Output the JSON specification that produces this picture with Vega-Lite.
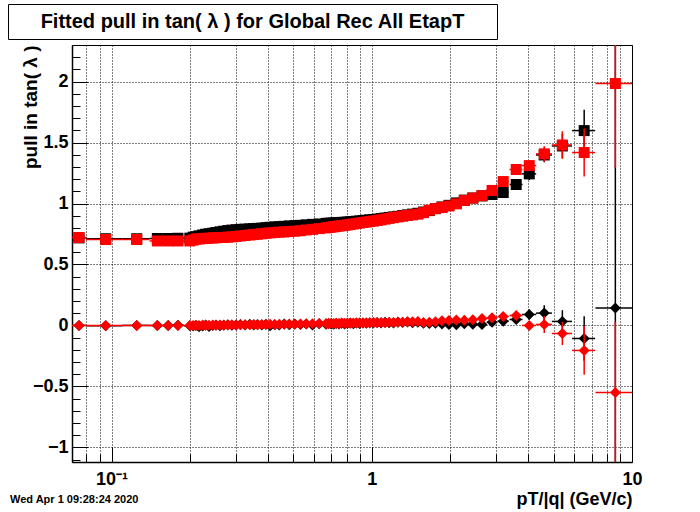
{
  "$schema": "https://vega.github.io/schema/vega-lite/v6.json",
  "background": "white",
  "padding": {"left": 7, "top": 3, "right": 0, "bottom": 0},
  "spacing": -1,
  "config": {"font": "Liberation Sans", "view": {"stroke": "black", "strokeWidth": 1}},
  "datasets": {
    "d": [
      {"pt":0.075,"hw":0.005,"s":"bs","v":0.718,"e":0.004},
      {"pt":0.095,"hw":0.015,"s":"bs","v":0.711,"e":0.004},
      {"pt":0.125,"hw":0.015,"s":"bs","v":0.711,"e":0.004},
      {"pt":0.15,"hw":0.01,"s":"bs","v":0.713,"e":0.004},
      {"pt":0.165,"hw":0.005,"s":"bs","v":0.713,"e":0.004},
      {"pt":0.18,"hw":0.01,"s":"bs","v":0.715,"e":0.004},
      {"pt":0.2,"hw":0.01,"s":"bs","v":0.716,"e":0.004},
      {"pt":0.206,"s":"bs","v":0.724},{"pt":0.211,"s":"bs","v":0.728},{"pt":0.217,"s":"bs","v":0.735},{"pt":0.224,"s":"bs","v":0.742},
      {"pt":0.23,"s":"bs","v":0.748},{"pt":0.237,"s":"bs","v":0.752},{"pt":0.245,"s":"bs","v":0.757},{"pt":0.252,"s":"bs","v":0.762},
      {"pt":0.261,"s":"bs","v":0.768},{"pt":0.27,"s":"bs","v":0.773},{"pt":0.28,"s":"bs","v":0.778},{"pt":0.29,"s":"bs","v":0.782},
      {"pt":0.301,"s":"bs","v":0.785},{"pt":0.313,"s":"bs","v":0.788},{"pt":0.326,"s":"bs","v":0.79},{"pt":0.34,"s":"bs","v":0.792},
      {"pt":0.352,"s":"bs","v":0.794},{"pt":0.364,"s":"bs","v":0.796},{"pt":0.378,"s":"bs","v":0.798},{"pt":0.392,"s":"bs","v":0.802},
      {"pt":0.407,"s":"bs","v":0.805},{"pt":0.424,"s":"bs","v":0.808},{"pt":0.441,"s":"bs","v":0.81},{"pt":0.461,"s":"bs","v":0.813},
      {"pt":0.482,"s":"bs","v":0.816},{"pt":0.506,"s":"bs","v":0.818},{"pt":0.532,"s":"bs","v":0.821},{"pt":0.56,"s":"bs","v":0.825},
      {"pt":0.592,"s":"bs","v":0.829},{"pt":0.628,"s":"bs","v":0.832},{"pt":0.668,"s":"bs","v":0.837},{"pt":0.683,"s":"bs","v":0.838},
      {"pt":0.698,"s":"bs","v":0.839},{"pt":0.714,"s":"bs","v":0.84},{"pt":0.73,"s":"bs","v":0.842},{"pt":0.748,"s":"bs","v":0.843},
      {"pt":0.766,"s":"bs","v":0.845},{"pt":0.786,"s":"bs","v":0.846},{"pt":0.806,"s":"bs","v":0.848},{"pt":0.827,"s":"bs","v":0.85},
      {"pt":0.85,"s":"bs","v":0.852},{"pt":0.873,"s":"bs","v":0.855},{"pt":0.898,"s":"bs","v":0.857},{"pt":0.925,"s":"bs","v":0.86},
      {"pt":0.953,"s":"bs","v":0.863},{"pt":0.983,"s":"bs","v":0.866},{"pt":1.015,"s":"bs","v":0.868},{"pt":1.049,"s":"bs","v":0.872},
      {"pt":1.086,"s":"bs","v":0.876},{"pt":1.125,"s":"bs","v":0.881},{"pt":1.167,"s":"bs","v":0.886},{"pt":1.212,"s":"bs","v":0.89},
      {"pt":1.261,"s":"bs","v":0.895},{"pt":1.314,"s":"bs","v":0.901},{"pt":1.372,"s":"bs","v":0.907},{"pt":1.435,"s":"bs","v":0.913},
      {"pt":1.504,"s":"bs","v":0.92},{"pt":1.58,"s":"bs","v":0.93},{"pt":1.664,"s":"bs","v":0.942},{"pt":1.757,"s":"bs","v":0.958},
      {"pt":1.862,"s":"bs","v":0.972},{"pt":1.98,"s":"bs","v":0.985},{"pt":2.114,"s":"bs","v":1.005},{"pt":2.268,"s":"bs","v":1.028},
      {"pt":2.445,"s":"bs","v":1.045},{"pt":2.653,"s":"bs","v":1.062},
      {"pt":2.9,"hw":0.135,"s":"bs","v":1.074,"e":0.015},
      {"pt":3.2,"hw":0.16,"s":"bs","v":1.09,"e":0.02},
      {"pt":3.59,"hw":0.205,"s":"bs","v":1.156,"e":0.03},
      {"pt":4.03,"hw":0.255,"s":"bs","v":1.243,"e":0.05},
      {"pt":4.6,"hw":0.325,"s":"bs","v":1.398,"e":0.06},
      {"pt":5.4,"hw":0.48,"s":"bs","v":1.472,"e":0.1},
      {"pt":6.55,"hw":0.665,"s":"bs","v":1.598,"e":0.17},

      {"pt":0.075,"hw":0.005,"s":"bd","v":0.0,"e":0.004},
      {"pt":0.095,"hw":0.015,"s":"bd","v":-0.002,"e":0.004},
      {"pt":0.125,"hw":0.015,"s":"bd","v":0.0,"e":0.004},
      {"pt":0.15,"hw":0.01,"s":"bd","v":-0.001,"e":0.004},
      {"pt":0.165,"hw":0.005,"s":"bd","v":0.0,"e":0.004},
      {"pt":0.18,"hw":0.01,"s":"bd","v":0.001,"e":0.004},
      {"pt":0.2,"hw":0.01,"s":"bd","v":-0.003,"e":0.004},
      {"pt":0.206,"s":"bd","v":-0.005},{"pt":0.211,"s":"bd","v":0.0},{"pt":0.217,"s":"bd","v":-0.01},{"pt":0.224,"s":"bd","v":-0.004},
      {"pt":0.23,"s":"bd","v":0.003},{"pt":0.237,"s":"bd","v":-0.008},{"pt":0.245,"s":"bd","v":0.0},{"pt":0.252,"s":"bd","v":0.004},
      {"pt":0.261,"s":"bd","v":-0.003},{"pt":0.27,"s":"bd","v":0.002},{"pt":0.28,"s":"bd","v":0.006},{"pt":0.29,"s":"bd","v":0.001},
      {"pt":0.301,"s":"bd","v":0.003},{"pt":0.313,"s":"bd","v":0.007},{"pt":0.326,"s":"bd","v":0.004},{"pt":0.34,"s":"bd","v":0.01},
      {"pt":0.352,"s":"bd","v":0.004},{"pt":0.364,"s":"bd","v":0.008},{"pt":0.378,"s":"bd","v":0.003},{"pt":0.392,"s":"bd","v":0.009},
      {"pt":0.407,"s":"bd","v":-0.002},{"pt":0.424,"s":"bd","v":0.006},{"pt":0.441,"s":"bd","v":0.004},{"pt":0.461,"s":"bd","v":0.012},
      {"pt":0.482,"s":"bd","v":0.005},{"pt":0.506,"s":"bd","v":0.011},{"pt":0.532,"s":"bd","v":0.007},{"pt":0.56,"s":"bd","v":0.012},
      {"pt":0.592,"s":"bd","v":0.004},{"pt":0.628,"s":"bd","v":0.013},{"pt":0.668,"s":"bd","v":0.01},{"pt":0.683,"s":"bd","v":0.016},
      {"pt":0.698,"s":"bd","v":0.012},{"pt":0.714,"s":"bd","v":0.009},{"pt":0.73,"s":"bd","v":0.015},{"pt":0.748,"s":"bd","v":0.011},
      {"pt":0.766,"s":"bd","v":0.018},{"pt":0.786,"s":"bd","v":0.012},{"pt":0.806,"s":"bd","v":0.016},{"pt":0.827,"s":"bd","v":0.02},
      {"pt":0.85,"s":"bd","v":0.014},{"pt":0.873,"s":"bd","v":0.019},{"pt":0.898,"s":"bd","v":0.016},{"pt":0.925,"s":"bd","v":0.021},
      {"pt":0.953,"s":"bd","v":0.017},{"pt":0.983,"s":"bd","v":0.022},{"pt":1.015,"s":"bd","v":0.019},{"pt":1.049,"s":"bd","v":0.024},
      {"pt":1.086,"s":"bd","v":0.02},{"pt":1.125,"s":"bd","v":0.026},{"pt":1.167,"s":"bd","v":0.022},{"pt":1.212,"s":"bd","v":0.021},
      {"pt":1.261,"s":"bd","v":0.026},{"pt":1.314,"s":"bd","v":0.024},{"pt":1.372,"s":"bd","v":0.028},{"pt":1.435,"s":"bd","v":0.022},
      {"pt":1.504,"s":"bd","v":0.026},{"pt":1.58,"s":"bd","v":0.018},{"pt":1.664,"s":"bd","v":0.015},{"pt":1.757,"s":"bd","v":0.017},
      {"pt":1.862,"s":"bd","v":0.012},{"pt":1.98,"s":"bd","v":0.008},{"pt":2.114,"s":"bd","v":0.006},{"pt":2.268,"s":"bd","v":0.014},
      {"pt":2.445,"s":"bd","v":0.01},{"pt":2.653,"s":"bd","v":0.008},
      {"pt":2.9,"hw":0.135,"s":"bd","v":0.027,"e":0.015},
      {"pt":3.2,"hw":0.16,"s":"bd","v":0.035,"e":0.02},
      {"pt":3.59,"hw":0.205,"s":"bd","v":0.049,"e":0.03},
      {"pt":4.03,"hw":0.255,"s":"bd","v":0.09,"e":0.04},
      {"pt":4.6,"hw":0.325,"s":"bd","v":0.101,"e":0.065},
      {"pt":5.4,"hw":0.48,"s":"bd","v":0.033,"e":0.092},
      {"pt":6.55,"hw":0.665,"s":"bd","v":-0.107,"e":0.183},
      {"pt":8.63,"hw":1.39,"s":"bd","v":0.142,"e":2.6},

      {"pt":0.075,"hw":0.005,"s":"rs","v":0.721,"e":0.004},
      {"pt":0.095,"hw":0.015,"s":"rs","v":0.705,"e":0.004},
      {"pt":0.125,"hw":0.015,"s":"rs","v":0.705,"e":0.004},
      {"pt":0.15,"hw":0.01,"s":"rs","v":0.693,"e":0.004},
      {"pt":0.165,"hw":0.005,"s":"rs","v":0.693,"e":0.004},
      {"pt":0.18,"hw":0.01,"s":"rs","v":0.693,"e":0.004},
      {"pt":0.2,"hw":0.01,"s":"rs","v":0.693,"e":0.004},
      {"pt":0.206,"s":"rs","v":0.7},{"pt":0.211,"s":"rs","v":0.708},{"pt":0.217,"s":"rs","v":0.71},{"pt":0.224,"s":"rs","v":0.712},
      {"pt":0.23,"s":"rs","v":0.714},{"pt":0.237,"s":"rs","v":0.716},{"pt":0.245,"s":"rs","v":0.717},{"pt":0.252,"s":"rs","v":0.719},
      {"pt":0.261,"s":"rs","v":0.721},{"pt":0.27,"s":"rs","v":0.722},{"pt":0.28,"s":"rs","v":0.724},{"pt":0.29,"s":"rs","v":0.727},
      {"pt":0.301,"s":"rs","v":0.73},{"pt":0.313,"s":"rs","v":0.734},{"pt":0.326,"s":"rs","v":0.738},{"pt":0.34,"s":"rs","v":0.742},
      {"pt":0.352,"s":"rs","v":0.745},{"pt":0.364,"s":"rs","v":0.748},{"pt":0.378,"s":"rs","v":0.752},{"pt":0.392,"s":"rs","v":0.756},
      {"pt":0.407,"s":"rs","v":0.759},{"pt":0.424,"s":"rs","v":0.762},{"pt":0.441,"s":"rs","v":0.765},{"pt":0.461,"s":"rs","v":0.767},
      {"pt":0.482,"s":"rs","v":0.77},{"pt":0.506,"s":"rs","v":0.773},{"pt":0.532,"s":"rs","v":0.777},{"pt":0.56,"s":"rs","v":0.783},
      {"pt":0.592,"s":"rs","v":0.788},{"pt":0.628,"s":"rs","v":0.794},{"pt":0.668,"s":"rs","v":0.8},{"pt":0.683,"s":"rs","v":0.803},
      {"pt":0.698,"s":"rs","v":0.806},{"pt":0.714,"s":"rs","v":0.809},{"pt":0.73,"s":"rs","v":0.812},{"pt":0.748,"s":"rs","v":0.815},
      {"pt":0.766,"s":"rs","v":0.818},{"pt":0.786,"s":"rs","v":0.821},{"pt":0.806,"s":"rs","v":0.824},{"pt":0.827,"s":"rs","v":0.828},
      {"pt":0.85,"s":"rs","v":0.832},{"pt":0.873,"s":"rs","v":0.836},{"pt":0.898,"s":"rs","v":0.84},{"pt":0.925,"s":"rs","v":0.844},
      {"pt":0.953,"s":"rs","v":0.848},{"pt":0.983,"s":"rs","v":0.852},{"pt":1.015,"s":"rs","v":0.856},{"pt":1.049,"s":"rs","v":0.861},
      {"pt":1.086,"s":"rs","v":0.866},{"pt":1.125,"s":"rs","v":0.872},{"pt":1.167,"s":"rs","v":0.878},{"pt":1.212,"s":"rs","v":0.884},
      {"pt":1.261,"s":"rs","v":0.89},{"pt":1.314,"s":"rs","v":0.896},{"pt":1.372,"s":"rs","v":0.902},{"pt":1.435,"s":"rs","v":0.907},
      {"pt":1.504,"s":"rs","v":0.913},{"pt":1.58,"s":"rs","v":0.925},{"pt":1.664,"s":"rs","v":0.945},{"pt":1.757,"s":"rs","v":0.958},
      {"pt":1.862,"s":"rs","v":0.968},{"pt":1.98,"s":"rs","v":0.98},{"pt":2.114,"s":"rs","v":0.997},{"pt":2.268,"s":"rs","v":1.025},
      {"pt":2.445,"s":"rs","v":1.045},{"pt":2.653,"s":"rs","v":1.065},
      {"pt":2.9,"hw":0.135,"s":"rs","v":1.107,"e":0.015},
      {"pt":3.2,"hw":0.16,"s":"rs","v":1.18,"e":0.02},
      {"pt":3.59,"hw":0.205,"s":"rs","v":1.279,"e":0.03},
      {"pt":4.03,"hw":0.255,"s":"rs","v":1.311,"e":0.04},
      {"pt":4.6,"hw":0.325,"s":"rs","v":1.407,"e":0.063},
      {"pt":5.4,"hw":0.48,"s":"rs","v":1.48,"e":0.113},
      {"pt":6.55,"hw":0.665,"s":"rs","v":1.418,"e":0.197},
      {"pt":8.63,"hw":1.39,"s":"rs","v":1.984,"e":0.69},

      {"pt":0.075,"hw":0.005,"s":"rd","v":0.0,"e":0.004},
      {"pt":0.095,"hw":0.015,"s":"rd","v":0.0,"e":0.004},
      {"pt":0.125,"hw":0.015,"s":"rd","v":0.0,"e":0.004},
      {"pt":0.15,"hw":0.01,"s":"rd","v":0.0,"e":0.004},
      {"pt":0.165,"hw":0.005,"s":"rd","v":0.0,"e":0.004},
      {"pt":0.18,"hw":0.01,"s":"rd","v":0.0,"e":0.004},
      {"pt":0.2,"hw":0.01,"s":"rd","v":0.0,"e":0.004},
      {"pt":0.206,"s":"rd","v":0.0},{"pt":0.211,"s":"rd","v":0.002},{"pt":0.217,"s":"rd","v":0.0},{"pt":0.224,"s":"rd","v":0.003},
      {"pt":0.23,"s":"rd","v":0.001},{"pt":0.237,"s":"rd","v":0.002},{"pt":0.245,"s":"rd","v":0.003},{"pt":0.252,"s":"rd","v":0.002},
      {"pt":0.261,"s":"rd","v":0.004},{"pt":0.27,"s":"rd","v":0.003},{"pt":0.28,"s":"rd","v":0.004},{"pt":0.29,"s":"rd","v":0.005},
      {"pt":0.301,"s":"rd","v":0.004},{"pt":0.313,"s":"rd","v":0.006},{"pt":0.326,"s":"rd","v":0.005},{"pt":0.34,"s":"rd","v":0.006},
      {"pt":0.352,"s":"rd","v":0.007},{"pt":0.364,"s":"rd","v":0.006},{"pt":0.378,"s":"rd","v":0.008},{"pt":0.392,"s":"rd","v":0.007},
      {"pt":0.407,"s":"rd","v":0.009},{"pt":0.424,"s":"rd","v":0.008},{"pt":0.441,"s":"rd","v":0.01},{"pt":0.461,"s":"rd","v":0.009},
      {"pt":0.482,"s":"rd","v":0.011},{"pt":0.506,"s":"rd","v":0.01},{"pt":0.532,"s":"rd","v":0.012},{"pt":0.56,"s":"rd","v":0.014},
      {"pt":0.592,"s":"rd","v":0.013},{"pt":0.628,"s":"rd","v":0.015},{"pt":0.668,"s":"rd","v":0.016},{"pt":0.683,"s":"rd","v":0.014},
      {"pt":0.698,"s":"rd","v":0.017},{"pt":0.714,"s":"rd","v":0.015},{"pt":0.73,"s":"rd","v":0.018},{"pt":0.748,"s":"rd","v":0.016},
      {"pt":0.766,"s":"rd","v":0.019},{"pt":0.786,"s":"rd","v":0.017},{"pt":0.806,"s":"rd","v":0.02},{"pt":0.827,"s":"rd","v":0.018},
      {"pt":0.85,"s":"rd","v":0.021},{"pt":0.873,"s":"rd","v":0.019},{"pt":0.898,"s":"rd","v":0.022},{"pt":0.925,"s":"rd","v":0.02},
      {"pt":0.953,"s":"rd","v":0.023},{"pt":0.983,"s":"rd","v":0.021},{"pt":1.015,"s":"rd","v":0.024},{"pt":1.049,"s":"rd","v":0.022},
      {"pt":1.086,"s":"rd","v":0.025},{"pt":1.125,"s":"rd","v":0.023},{"pt":1.167,"s":"rd","v":0.027},{"pt":1.212,"s":"rd","v":0.025},
      {"pt":1.261,"s":"rd","v":0.029},{"pt":1.314,"s":"rd","v":0.027},{"pt":1.372,"s":"rd","v":0.031},{"pt":1.435,"s":"rd","v":0.03},
      {"pt":1.504,"s":"rd","v":0.032},{"pt":1.58,"s":"rd","v":0.024},{"pt":1.664,"s":"rd","v":0.026},{"pt":1.757,"s":"rd","v":0.03},
      {"pt":1.862,"s":"rd","v":0.038},{"pt":1.98,"s":"rd","v":0.041},{"pt":2.114,"s":"rd","v":0.044},{"pt":2.268,"s":"rd","v":0.043},
      {"pt":2.445,"s":"rd","v":0.047},{"pt":2.653,"s":"rd","v":0.057},
      {"pt":2.9,"hw":0.135,"s":"rd","v":0.063,"e":0.015},
      {"pt":3.2,"hw":0.16,"s":"rd","v":0.074,"e":0.02},
      {"pt":3.59,"hw":0.205,"s":"rd","v":0.082,"e":0.03},
      {"pt":4.03,"hw":0.255,"s":"rd","v":0.0,"e":0.035},
      {"pt":4.6,"hw":0.325,"s":"rd","v":0.008,"e":0.07},
      {"pt":5.4,"hw":0.48,"s":"rd","v":-0.066,"e":0.095},
      {"pt":6.55,"hw":0.665,"s":"rd","v":-0.205,"e":0.2},
      {"pt":8.63,"hw":1.39,"s":"rd","v":-0.549,"e":0.58}
    ]
  },
  "vconcat": [
    {
      "width": 489,
      "height": 35,
      "view": {"stroke": "black", "strokeWidth": 1},
      "data": {"values": [{"t": "Fitted pull in tan( λ ) for Global Rec All EtapT", "px": 0.5, "py": 0.5}]},
      "mark": {"type": "text", "font": "Liberation Sans", "fontSize": 20, "fontWeight": "bold", "color": "black"},
      "encoding": {
        "text": {"field": "t", "type": "nominal"},
        "x": {"field": "px", "type": "quantitative", "scale": {"domain": [0, 1]}, "axis": null},
        "y": {"field": "py", "type": "quantitative", "scale": {"domain": [0, 1]}, "axis": null}
      }
    },
    {
      "spacing": 0,
      "hconcat": [
        {
          "width": 1,
          "height": 1,
          "view": {"stroke": null},
          "data": {"values": [{"t": ""}]},
          "mark": {"type": "text", "opacity": 0},
          "encoding": {"text": {"field": "t", "type": "nominal"}}
        },
        {
          "width": 560,
          "height": 417,
          "data": {"name": "d"},
          "title": {"text": "Wed Apr  1 09:28:24 2020", "orient": "bottom", "anchor": "start", "frame": "group", "dx": -62, "offset": -14, "fontSize": 11, "fontWeight": "bold", "font": "Liberation Sans", "color": "black"},
          "encoding": {
            "x": {"field": "pt", "type": "quantitative",
              "scale": {"type": "log", "domain": [0.0705, 10], "nice": false},
              "axis": {
                "values": [0.08,0.09,0.1,0.2,0.3,0.4,0.5,0.6,0.7,0.8,0.9,1,2,3,4,5,6,7,8,9,10],
                "labelExpr": "datum.value == 0.1 ? '10⁻¹' : (datum.value == 1 ? '1' : (datum.value == 10 ? '10' : ''))",
                "grid": true, "gridColor": "black", "gridDash": [1, 2], "gridWidth": 1, "gridOpacity": 1,
                "tickColor": "black", "tickWidth": 1,
                "tickSize": {"condition": {"test": "datum.value == 0.1 || datum.value == 1 || datum.value == 10", "value": -15}, "value": -8},
                "domainColor": "black", "domainWidth": 1.5,
                "labelFont": "Liberation Sans", "labelFontWeight": "bold", "labelFontSize": 18, "labelColor": "black",
                "labelPadding": 23, "labelFlush": false, "labelOverlap": false, "labelBound": false,
                "title": "pT/|q| (GeV/c)", "titleFont": "Liberation Sans", "titleFontWeight": "bold", "titleFontSize": 18,
                "titleColor": "black", "titleAnchor": "end", "titlePadding": -5
              }},
            "y": {"field": "v", "type": "quantitative",
              "scale": {"domain": [-1.12, 2.3], "nice": false, "zero": false},
              "axis": {
                "values": [-1.1,-1,-0.9,-0.8,-0.7,-0.6,-0.5,-0.4,-0.3,-0.2,-0.1,0,0.1,0.2,0.3,0.4,0.5,0.6,0.7,0.8,0.9,1,1.1,1.2,1.3,1.4,1.5,1.6,1.7,1.8,1.9,2,2.1,2.2],
                "labelExpr": "abs(datum.value*2 - round(datum.value*2)) < 0.01 ? format(datum.value, '~g') : ''",
                "grid": true, "gridColor": "black", "gridDash": [1, 2], "gridWidth": 1,
                "gridOpacity": {"condition": {"test": "abs(datum.value*2 - round(datum.value*2)) < 0.01", "value": 1}, "value": 0},
                "tickColor": "black", "tickWidth": 1,
                "tickSize": {"condition": {"test": "abs(datum.value*2 - round(datum.value*2)) < 0.01", "value": -16}, "value": -8},
                "domainColor": "black", "domainWidth": 1.5,
                "labelFont": "Liberation Sans", "labelFontWeight": "bold", "labelFontSize": 18, "labelColor": "black",
                "labelPadding": 20, "labelOverlap": false, "labelBound": false, "labelFlush": false,
                "title": "pull in tan( λ )", "titleFont": "Liberation Sans", "titleFontWeight": "bold", "titleFontSize": 19,
                "titleColor": "black", "titleAnchor": "end", "titlePadding": -8
              }},
            "color": {"field": "s", "type": "nominal",
              "scale": {"domain": ["bs", "bd", "rs", "rd"], "range": ["#000000", "#000000", "#ff0000", "#ff0000"]},
              "legend": null}
          },
          "layer": [
            {"transform": [{"filter": "(datum.s == 'bs' || datum.s == 'bd') && isValid(datum.e)"}],
             "mark": {"type": "errorbar", "thickness": 1.5, "clip": true},
             "encoding": {"yError": {"field": "e"}}},
            {"transform": [{"filter": "(datum.s == 'bs' || datum.s == 'bd') && isValid(datum.e)"}],
             "mark": {"type": "errorbar", "thickness": 1.5, "clip": true},
             "encoding": {"xError": {"field": "hw"}}},
            {"transform": [{"filter": "datum.s == 'bs' || datum.s == 'bd'"}],
             "mark": {"type": "point", "filled": true, "opacity": 1, "size": 121, "strokeWidth": 0, "clip": true},
             "encoding": {"shape": {"field": "s", "type": "nominal",
               "scale": {"domain": ["bs", "bd", "rs", "rd"], "range": ["square", "diamond", "square", "diamond"]}, "legend": null}}},
            {"transform": [{"filter": "(datum.s == 'rs' || datum.s == 'rd') && isValid(datum.e)"}],
             "mark": {"type": "errorbar", "thickness": 1.5, "clip": true},
             "encoding": {"yError": {"field": "e"}}},
            {"transform": [{"filter": "(datum.s == 'rs' || datum.s == 'rd') && isValid(datum.e)"}],
             "mark": {"type": "errorbar", "thickness": 1.5, "clip": true},
             "encoding": {"xError": {"field": "hw"}}},
            {"transform": [{"filter": "datum.s == 'rs' || datum.s == 'rd'"}],
             "mark": {"type": "point", "filled": true, "opacity": 1, "size": 121, "strokeWidth": 0, "clip": true},
             "encoding": {"shape": {"field": "s", "type": "nominal",
               "scale": {"domain": ["bs", "bd", "rs", "rd"], "range": ["square", "diamond", "square", "diamond"]}, "legend": null}}}
          ]
        }
      ]
    }
  ]
}
